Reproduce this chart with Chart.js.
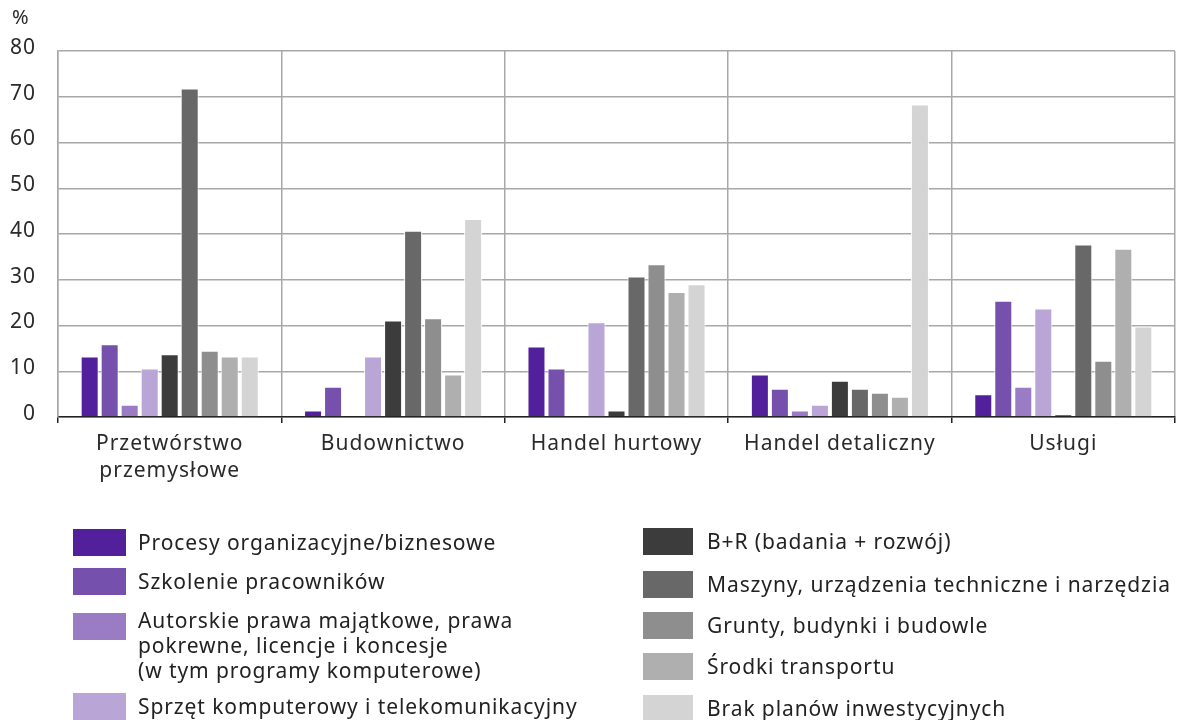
<!DOCTYPE html>
<html>
<head>
<meta charset="utf-8">
<script src="https://cdn.jsdelivr.net/npm/chart.js@4.4.9/dist/chart.umd.min.js"></script>
<style>
  html, body { margin:0; padding:0; background:#fff; }
  body { width:1181px; height:720px; position:relative; overflow:hidden;
         font-family:"Noto Sans", sans-serif; color:#222; }
  #wrap { position:absolute; left:0; top:0; width:1181px; height:720px; }
  #unit { position:absolute; left:12px; top:3px; font-size:20px; color:#2a2a2a; }
  .leg { position:absolute; display:flex; align-items:flex-start; font-size:21px; line-height:25px; letter-spacing:0.9px; }
  .leg .sw { flex:none; height:27px; }
  .leg .tx { padding-top:1px; white-space:nowrap; }
  .leg .tx.multi { margin-top:-6px; }
  .col-l .sw { width:53px; margin-right:12px; }
  .col-l { left:73px; }
  .col-r .sw { width:50px; margin-right:14px; }
  .col-r { left:643px; }
</style>
</head>
<body>
<div id="wrap"><canvas id="chart" width="1181" height="720"></canvas></div>
<div id="unit">%</div>
<div id="legend"></div>
<script>
/* data */
const categories = [['Przetwórstwo', 'przemysłowe'], 'Budownictwo', 'Handel hurtowy', 'Handel detaliczny', 'Usługi'];
const seriesNames = [
  'Procesy organizacyjne/biznesowe',
  'Szkolenie pracowników',
  'Autorskie prawa majątkowe, prawa\npokrewne, licencje i koncesje\n(w tym programy komputerowe)',
  'Sprzęt komputerowy i telekomunikacyjny',
  'B+R (badania + rozwój)',
  'Maszyny, urządzenia techniczne i narzędzia',
  'Grunty, budynki i budowle',
  'Środki transportu',
  'Brak planów inwestycyjnych'
];
const procesy    = [13.2, 1.4, 15.4, 9.3, 5.0];
const szkolenie  = [15.9, 6.6, 10.6, 6.2, 25.4];
const prawa      = [2.7, 0, 0, 1.4, 6.6];
const sprzet     = [10.6, 13.2, 20.7, 2.7, 23.7];
const bir        = [13.7, 21.1, 1.4, 7.9, 0.6];
const maszyny    = [71.8, 40.7, 30.7, 6.2, 37.7];
const grunty     = [14.5, 21.6, 33.4, 5.3, 12.3];
const transport  = [13.2, 9.3, 27.3, 4.4, 36.8];
const brak       = [13.2, 43.3, 29.0, 68.3, 19.8];
const yTicks = [0, 10, 20, 30, 40, 50, 60, 70, 80];

const colors = ['#52209A','#7551AD','#9A7CC4','#B9A5D6','#3C3C3C','#686868','#8E8E8E','#AFAFAF','#D4D4D4'];
const series = [procesy, szkolenie, prawa, sprzet, bir, maszyny, grunty, transport, brak];

/* legend (html) */
const legTops = [529, 568, 613, 693, 528, 571, 612, 653, 695];
const legEl = document.getElementById('legend');
seriesNames.forEach((name, i) => {
  const d = document.createElement('div');
  d.className = 'leg ' + (i < 4 ? 'col-l' : 'col-r');
  d.style.top = legTops[i] + 'px';
  const multi = name.includes('\n') ? ' multi' : '';
  d.innerHTML = `<span class="sw" style="background:${colors[i]}"></span><span class="tx${multi}">${name.replace(/\n/g, '<br>')}</span>`;
  legEl.appendChild(d);
});

/* letter spacing for canvas text */
const spacing = {
  id: 'spacing',
  beforeUpdate: c => { c.ctx.letterSpacing = '1px'; },
  beforeDraw: c => { c.ctx.letterSpacing = '1px'; }
};

/* chart */
const FONT = '"Noto Sans", sans-serif';
new Chart(document.getElementById('chart').getContext('2d'), {
  type: 'bar',
  data: {
    labels: categories,
    datasets: series.map((s, i) => ({
      label: seriesNames[i],
      data: s,
      backgroundColor: colors[i],
      borderColor: '#ffffff',
      borderWidth: 1,
      borderSkipped: 'bottom',
      categoryPercentage: 0.806,
      barPercentage: 0.9
    }))
  },
  options: {
    responsive: false,
    animation: false,
    layout: { padding: { top: 51, right: 6, bottom: 0, left: 0 } },
    plugins: { legend: { display: false }, tooltip: { enabled: false } },
    scales: {
      x: {
        grid: { offset: true, color: '#a8a8a8', lineWidth: 1.5, tickColor: '#222', tickLength: 6 },
        border: { color: '#222', width: 1.5 },
        ticks: { color: '#2a2a2a', padding: 7, font: { family: FONT, size: 21, lineHeight: 1.3 }, maxRotation: 0 },
        afterFit: s => { s.height = 303; }
      },
      y: {
        min: 0, max: 80,
        afterBuildTicks: s => { s.ticks = yTicks.map(v => ({ value: v })); },
        grid: { color: '#a8a8a8', lineWidth: 1.5, drawTicks: false },
        border: { color: '#a8a8a8', width: 1.5 },
        ticks: { color: '#2a2a2a', padding: 22, labelOffset: -3, font: { family: FONT, size: 21 } },
        afterFit: s => { s.width = 58; }
      }
    }
  },
  plugins: [spacing]
});
</script>
</body>
</html>
